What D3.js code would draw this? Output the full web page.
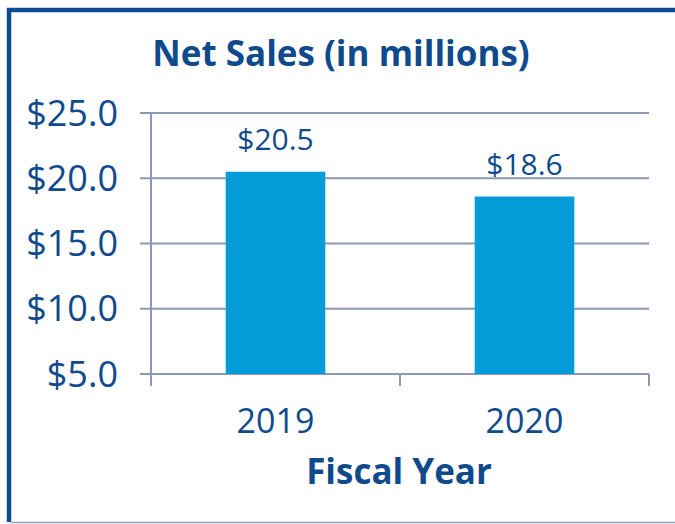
<!DOCTYPE html>
<html>
<head>
<meta charset="utf-8">
<script src="https://cdn.jsdelivr.net/npm/d3@7"></script>
<style>
    body { margin: 0; background: #fff; }
    text { font-family: "Open Sans", sans-serif; fill: #0f4a8c; }
</style>
</head>
<body>
<svg class="sales_chart"></svg>
<script>
var years = ["2019", "2020"];
var sales = [20.5, 18.6];
var yTicks = [5, 10, 15, 20, 25];

var width = 675,
    height = 524;

var chart = d3.select(".sales_chart")
    .attr("width", width)
    .attr("height", height);

// frame: heavy top and left, thin bottom
chart.append("path")
    .attr("d", "M9,522 L9,10 L680,10")
    .style("fill", "none")
    .style("stroke", "#0e4c91")
    .style("stroke-width", 4.5);
chart.append("line")
    .attr("x1", 11).attr("x2", 675)
    .attr("y1", 522.5).attr("y2", 522.5)
    .style("stroke", "#8ea2c4")
    .style("stroke-width", 1.5);

var x = d3.scaleBand()
    .domain(years)
    .range([151, 649])
    .paddingInner(0.6)
    .paddingOuter(0.3);

var y = d3.scaleLinear()
    .domain([5, 25])
    .range([374, 113]);

var gridColor = "#8c98b4";

// gridlines
chart.append("g")
    .selectAll("line")
    .data(yTicks)
    .enter()
    .append("line")
    .attr("x1", 140)
    .attr("x2", 649)
    .attr("y1", function (d) { return y(d); })
    .attr("y2", function (d) { return y(d); })
    .style("stroke", gridColor)
    .style("stroke-width", 2);

// y axis line
chart.append("line")
    .attr("x1", 151).attr("x2", 151)
    .attr("y1", y(25)).attr("y2", 386)
    .style("stroke", gridColor)
    .style("stroke-width", 2);

// category tick marks
var xEdges = [151].concat(years.map(function (d) { return x(d) + x.bandwidth() + x.step() * 0.3; }));
chart.append("g")
    .selectAll("line")
    .data(xEdges)
    .enter()
    .append("line")
    .attr("x1", function (d) { return d; })
    .attr("x2", function (d) { return d; })
    .attr("y1", y(5))
    .attr("y2", 386)
    .style("stroke", gridColor)
    .style("stroke-width", 2);

// y labels
chart.append("g")
    .selectAll("text")
    .data(yTicks)
    .enter()
    .append("text")
    .attr("x", 118)
    .attr("y", function (d) { return y(d) + 12.5; })
    .attr("text-anchor", "end")
    .style("font-size", "36px")
    .text(function (d) { return "$" + d.toFixed(1); });

// bars
chart.selectAll(".bar")
    .data(sales)
    .enter()
    .append("rect")
    .attr("class", "bar")
    .attr("x", function (d, i) { return x(years[i]); })
    .attr("width", x.bandwidth())
    .attr("y", function (d) { return y(d); })
    .attr("height", function (d) { return y(5) - y(d); })
    .style("fill", "#039cd8");

// value labels
chart.selectAll(".val")
    .data(sales)
    .enter()
    .append("text")
    .attr("class", "val")
    .attr("x", function (d, i) { return x(years[i]) + x.bandwidth() / 2; })
    .attr("y", function (d) { return y(d) - 22; })
    .attr("text-anchor", "middle")
    .style("font-size", "30px")
    .text(function (d) { return "$" + d.toFixed(1); });

// category labels
chart.selectAll(".cat")
    .data(years)
    .enter()
    .append("text")
    .attr("class", "cat")
    .attr("x", function (d) { return x(d) + x.bandwidth() / 2; })
    .attr("y", 433)
    .attr("text-anchor", "middle")
    .style("font-size", "34px")
    .text(function (d) { return d; });

chart.append("text")
    .attr("x", 341)
    .attr("y", 66)
    .attr("text-anchor", "middle")
    .style("font-size", "35px")
    .style("font-weight", "bold")
    .text("Net Sales (in millions)");

chart.append("text")
    .attr("x", 399)
    .attr("y", 484)
    .attr("text-anchor", "middle")
    .style("font-size", "35px")
    .style("font-weight", "bold")
    .text("Fiscal Year");
</script>
</body>
</html>
